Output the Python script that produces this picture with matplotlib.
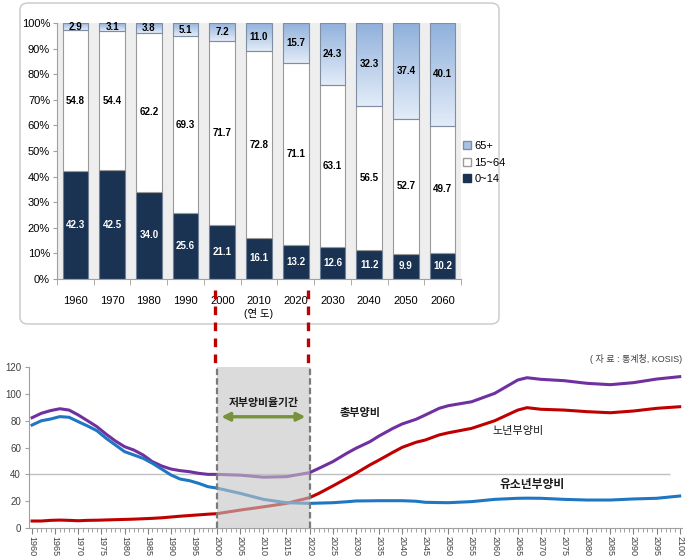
import matplotlib
matplotlib.use("Agg")
import matplotlib.pyplot as plt
import numpy as np
from matplotlib.patches import FancyBboxPatch, Patch
from matplotlib.lines import Line2D
from matplotlib.colors import LinearSegmentedColormap
from matplotlib.transforms import blended_transform_factory

plt.rcParams["font.family"] = ["Liberation Sans", "Noto Sans CJK KR"]

# ===========================================
# DATA : age structure (%)
# ===========================================

bar_years = ["1960", "1970", "1980", "1990", "2000", "2010",
             "2020", "2030", "2040", "2050", "2060"]
age_0_14 = [42.3, 42.5, 34.0, 25.6, 21.1, 16.1, 13.2, 12.6, 11.2, 9.9, 10.2]
age_15_64 = [54.8, 54.4, 62.2, 69.3, 71.7, 72.8, 71.1, 63.1, 56.5, 52.7, 49.7]
age_65 = [2.9, 3.1, 3.8, 5.1, 7.2, 11.0, 15.7, 24.3, 32.3, 37.4, 40.1]

# ===========================================
# DATA : dependency ratios
# ===========================================

years = [1960, 1962, 1964, 1966, 1968, 1970, 1972, 1974, 1976, 1978,
         1980, 1982, 1984, 1986, 1988, 1990, 1992, 1994, 1996, 1998,
         2000, 2005, 2010, 2015, 2020, 2022, 2025, 2028, 2030, 2033,
         2035, 2038, 2040, 2043, 2045, 2048, 2050, 2055, 2060, 2065,
         2067, 2070, 2075, 2080, 2085, 2090, 2095, 2100]

total_ratio = [82.3, 85.6, 87.6, 89.0, 88.0, 84.3, 80.0, 75.6, 70.0, 64.9,
               60.6, 58.1, 54.4, 49.4, 46.2, 43.9, 42.7, 41.9, 40.7, 39.9,
               39.9, 39.3, 37.8, 38.2, 41.2, 44.4, 49.4, 55.6, 59.4, 64.3,
               68.6, 74.3, 77.6, 81.1, 84.3, 89.3, 91.3, 94.2, 100.5, 110.5,
               112.2, 111.0, 110.0, 108.0, 107.0, 108.5, 111.2, 113.0]

old_ratio = [5.0, 5.0, 5.5, 5.7, 5.5, 5.2, 5.5, 5.6, 5.8, 6.0,
             6.2, 6.4, 6.7, 7.0, 7.4, 8.0, 8.6, 9.1, 9.6, 10.1,
             10.5, 13.2, 15.6, 18.2, 22.5, 25.7, 31.2, 36.9, 40.7, 46.9,
             50.6, 56.4, 60.1, 63.9, 65.6, 69.4, 71.0, 74.3, 80.0, 88.0,
             89.8, 88.6, 88.0, 86.8, 86.0, 87.3, 89.3, 90.5]

young_ratio = [76.8, 80.0, 81.3, 83.1, 82.6, 79.3, 76.1, 72.6, 66.9, 61.9,
               56.9, 54.4, 51.9, 48.2, 43.9, 39.5, 36.4, 35.2, 33.2, 30.7,
               29.6, 25.7, 21.2, 18.7, 18.2, 18.4, 18.7, 19.4, 20.0, 20.1,
               20.2, 20.2, 20.2, 19.8, 19.0, 18.8, 18.7, 19.5, 21.2, 22.0,
               22.1, 22.0, 21.2, 20.7, 20.7, 21.5, 22.0, 23.7]

W, H = 699, 560

fig = plt.figure(figsize=(W / 100, H / 100), dpi=100)

# ===========================================
# TOP PANEL : rounded frame
# ===========================================

frame = FancyBboxPatch(
    (20 / W, 1 - 324 / H), 479 / W, 321 / H,
    boxstyle="round,pad=0,rounding_size=0.012",
    transform=fig.transFigure,
    facecolor="none",
    edgecolor="#c8c8c8",
    linewidth=1.0,
    zorder=-1
)
fig.patches.append(frame)

ax1 = fig.add_axes([57 / W, 1 - 279 / H, 404 / W, 256 / H])
ax1.set_facecolor("#eeeeee")

x = np.arange(len(bar_years))
bottom_mid = np.array(age_0_14)
bottom_top = bottom_mid + np.array(age_15_64)

b1 = ax1.bar(x, age_0_14, width=0.7, color="#1b3353",
             edgecolor="#6f7f95", linewidth=0.8, zorder=2)
b2 = ax1.bar(x, age_15_64, width=0.7, bottom=bottom_mid, color="white",
             edgecolor="#9a9a9a", linewidth=0.8, zorder=2)
b3 = ax1.bar(x, age_65, width=0.7, bottom=bottom_top, color="none",
             edgecolor="#7f8ea3", linewidth=0.8, zorder=2)

# gradient fill for 65+
grad = np.linspace(0, 1, 100).reshape(-1, 1)
blue_cmap = LinearSegmentedColormap.from_list("old", ["#e3ecf8", "#90b1dc"])
for patch in b3:
    px, py = patch.get_xy()
    im = ax1.imshow(grad, cmap=blue_cmap, origin="lower", aspect="auto",
                    extent=(px, px + patch.get_width(), py, py + patch.get_height()),
                    zorder=1.5)
    im.set_clip_path(patch)

for i in range(len(bar_years)):
    ax1.text(x[i], age_0_14[i] / 2, f"{age_0_14[i]:.1f}", ha="center",
             va="center", color="white", fontsize=7, fontweight="bold", zorder=4)
    ax1.text(x[i], bottom_mid[i] + age_15_64[i] / 2, f"{age_15_64[i]:.1f}",
             ha="center", va="center", color="black", fontsize=7,
             fontweight="bold", zorder=4)
    ax1.text(x[i], bottom_top[i] + age_65[i] / 2, f"{age_65[i]:.1f}",
             ha="center", va="center", color="black", fontsize=7,
             fontweight="bold", zorder=4)

ax1.set_xlim(-0.5, len(bar_years) - 0.5)
ax1.set_ylim(0, 100)
ax1.set_yticks(np.arange(0, 101, 10))
ax1.set_yticklabels([f"{v}%" for v in range(0, 101, 10)], fontsize=8)
ax1.set_xticks(x)
ax1.set_xticklabels(bar_years, fontsize=8)
ax1.set_xticks(np.arange(-0.5, len(bar_years), 1), minor=True)
ax1.tick_params(axis="x", which="major", length=0, pad=12)
ax1.tick_params(axis="x", which="minor", length=4, color="#a0a0a0")
ax1.tick_params(axis="y", length=3, color="#a0a0a0", pad=2)
for side in ["top", "right"]:
    ax1.spines[side].set_visible(False)
for side in ["left", "bottom"]:
    ax1.spines[side].set_color("#a0a0a0")

ax1.text(5, -0.135, "(연 도)", transform=blended_transform_factory(ax1.transData, ax1.transAxes),
         ha="center", va="center", fontsize=7.5)

handles = [
    Patch(facecolor="#a9c2e4", edgecolor="#7f8ea3", label="65+"),
    Patch(facecolor="white", edgecolor="#9a9a9a", label="15~64"),
    Patch(facecolor="#1b3353", edgecolor="#1b3353", label="0~14"),
]
ax1.legend(handles=handles, loc="center left", bbox_to_anchor=(0.995, 0.455),
           frameon=False, fontsize=8, handlelength=0.7, handleheight=0.7,
           handletextpad=0.3, labelspacing=0.6, borderaxespad=0)

# ===========================================
# BOTTOM PANEL : dependency ratios
# ===========================================

ax2 = fig.add_axes([29.3 / W, 1 - 527.7 / H, 652.7 / W, 160.4 / H])

ax2.plot(years, total_ratio, color="#7030a0", linewidth=2.2, zorder=2)
ax2.plot(years, old_ratio, color="#c00000", linewidth=2.2, zorder=2)
ax2.plot(years, young_ratio, color="#1f77c4", linewidth=2.2, zorder=2)

ax2.hlines(40, 1959.4, 2098, color="#c0c0c0", linewidth=1.0, zorder=1)

ax2.axvspan(2000, 2020, color="#c4c4c4", alpha=0.6, linewidth=0, zorder=3)
for yr in [2000, 2020]:
    ax2.axvline(yr, color="#7a7a7a", linewidth=1.6,
                linestyle=(0, (2.9, 1.4)), zorder=4)

ax2.annotate("", xy=(2000.3, 83), xytext=(2019.7, 83),
             arrowprops=dict(arrowstyle="<|-|>", color="#77933c",
                             linewidth=2.4, mutation_scale=12), zorder=5)
ax2.text(2010, 93, "저부양비율기간", ha="center", va="center",
         fontsize=7.8, fontweight="bold", color="#1a1a1a", zorder=5)

ax2.text(2026.5, 86, "총부양비", ha="left", va="center", fontsize=8,
         fontweight="bold", color="#1a1a1a")
ax2.text(2059.5, 72, "노년부양비", ha="left", va="center", fontsize=8,
         color="#1a1a1a")
ax2.text(2061, 32, "유소년부양비", ha="left", va="center", fontsize=8.5,
         fontweight="bold", color="#1a1a1a")
ax2.text(1.0, 1.05, "( 자 료 : 통계청, KOSIS)", transform=ax2.transAxes,
         ha="right", va="center", fontsize=6.5, color="#404040")

ax2.set_xlim(1959.4, 2100.5)
ax2.set_ylim(0, 120)
ax2.set_yticks(np.arange(0, 121, 20))
ax2.tick_params(axis="y", labelsize=7, length=3, color="#a0a0a0",
                labelcolor="#404040", pad=3)
ax2.set_xticks(np.arange(1960, 2101, 5))
ax2.set_xticks(np.arange(1960, 2101, 1), minor=True)
ax2.tick_params(axis="x", which="major", labelsize=6.5, labelrotation=270,
                length=4, color="#808080", labelcolor="#404040", pad=2)
ax2.tick_params(axis="x", which="minor", length=3, color="#909090")
for side in ["top", "right"]:
    ax2.spines[side].set_visible(False)
for side in ["left", "bottom"]:
    ax2.spines[side].set_color("#a0a0a0")

# ===========================================
# RED CONNECTOR LINES
# ===========================================

link = blended_transform_factory(ax2.transData, fig.transFigure)
for yr in [1999.6, 2019.7]:
    fig.add_artist(Line2D([yr, yr], [1 - 290 / H, 1 - 366 / H], transform=link,
                          color="#c00000", linewidth=2.4,
                          linestyle=(0, (2.6, 2.2)), zorder=10))

fig.savefig("out.png", dpi=100)
